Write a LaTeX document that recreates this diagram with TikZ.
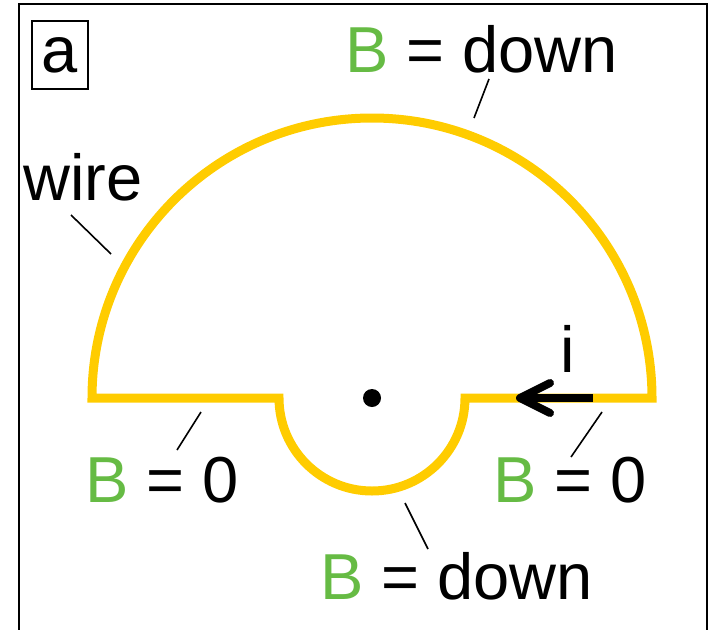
\documentclass[tikz,border=0pt]{standalone}
\usepackage{fontspec}
\setmainfont{Liberation Sans}
\definecolor{bgreen}{RGB}{102,187,68}
\definecolor{wireyellow}{RGB}{255,204,0}
\begin{document}
\begin{tikzpicture}[x=1pt,y=-1pt,
  lbl/.style={inner sep=0pt, anchor=base west, font=\fontsize{65}{78}\selectfont},
  wirestyle/.style={draw=wireyellow, line width=9pt, line join=miter},
  leader/.style={draw=black, line width=1.6pt},
  framestyle/.style={draw=black, line width=2pt},
  currentarrow/.style={draw=black, line width=8pt}]
\useasboundingbox (0,0) rectangle (711,629);
\clip (0,0) rectangle (711,629);
% outer frame (open at bottom)
\draw[framestyle] (19,640) -- (19,4) -- (707,4) -- (707,640);
% panel label
\node[draw=black, line width=1.5pt, minimum width=56pt, minimum height=68pt, inner sep=0pt,
      font=\fontsize{65}{78}\selectfont] (panel) at (60,55) {a};
% wire
\coordinate (c) at (372,398);
\draw[wirestyle] (279,398) -- (92,398) arc[start angle=180, end angle=360, radius=280]
  -- (465,398) arc[start angle=0, end angle=180, radius=93] -- cycle;
% centre dot
\fill[black] (c) circle[radius=9pt];
% current arrow
\coordinate (arrS) at (593,398);
\coordinate (arrT) at (523,398);
\coordinate (barbA) at (550,383);
\coordinate (barbB) at (550,413);
\coordinate (tip) at (520,398);
\draw[currentarrow] (arrS) -- (arrT);
\draw[currentarrow, line cap=round, line join=round] (barbA) -- (tip) -- (barbB);
\node[lbl, anchor=base] (ilbl) at (568,372) {i};
% labels
\node[lbl] (tdown) at (345,72) {\textcolor{bgreen}{B} = down};
\node[lbl] (wire) at (23,200) {wire};
\node[lbl] (lzero) at (85,502) {\textcolor{bgreen}{B} = 0};
\node[lbl] (rzero) at (493,502) {\textcolor{bgreen}{B} = 0};
\node[lbl] (bdown) at (320,599) {\textcolor{bgreen}{B} = down};
% leader lines
\coordinate (l1a) at (489,79);  \coordinate (l1b) at (474,118);
\coordinate (l2a) at (71,215);  \coordinate (l2b) at (111,254);
\coordinate (l3a) at (201,412); \coordinate (l3b) at (177,450);
\coordinate (l4a) at (602,412); \coordinate (l4b) at (571,457);
\coordinate (l5a) at (405,503); \coordinate (l5b) at (428,549);
\draw[leader] (l1a) -- (l1b);
\draw[leader] (l2a) -- (l2b);
\draw[leader] (l3a) -- (l3b);
\draw[leader] (l4a) -- (l4b);
\draw[leader] (l5a) -- (l5b);
\end{tikzpicture}
\end{document}
